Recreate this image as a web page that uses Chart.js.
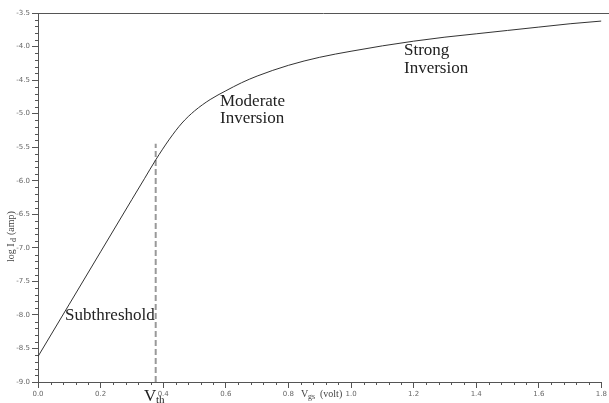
<!DOCTYPE html>
<html>
<head>
<meta charset="utf-8">
<script src="https://cdn.jsdelivr.net/npm/chart.js@4.4.0/dist/chart.umd.min.js"></script>
<style>
  html, body { margin: 0; padding: 0; background: #fff; }
  #wrap { width: 609px; height: 403px; }
</style>
</head>
<body>
<div id="wrap"><canvas id="idChart" width="609" height="403"></canvas></div>
<script>
// gate voltage (V) and log10 of drain current
const vgs = [0, 0.1, 0.2, 0.3, 0.34, 0.376, 0.42, 0.46, 0.5, 0.55, 0.6, 0.65, 0.7, 0.8, 0.9, 1.0, 1.1, 1.2, 1.3, 1.4, 1.5, 1.6, 1.7, 1.8];
const logId = [-8.62, -7.84, -7.06, -6.28, -5.97, -5.69, -5.38, -5.14, -4.96, -4.79, -4.66, -4.54, -4.44, -4.28, -4.16, -4.07, -3.99, -3.92, -3.86, -3.81, -3.76, -3.71, -3.66, -3.62];

// threshold marker
const vth = [0.376, 0.376];
const vthY = [-9.0, -5.45];

// axis ticks
const xTicks = [0.0, 0.2, 0.4, 0.6, 0.8, 1.0, 1.2, 1.4, 1.6, 1.8];
const yTicks = [-3.5, -4.0, -4.5, -5.0, -5.5, -6.0, -6.5, -7.0, -7.5, -8.0, -8.5, -9.0];

const curvePts = vgs.map((v, i) => ({ x: v, y: logId[i] }));
const vthPts = vth.map((v, i) => ({ x: v, y: vthY[i] }));

// minor ticks, top border, labels with subscripts
const extras = {
    id: 'extras',
    afterDraw(chart) {
        const ctx = chart.ctx;
        const xs = chart.scales.x, ys = chart.scales.y;
        const a = chart.chartArea;
        ctx.save();
        ctx.strokeStyle = '#555';
        ctx.lineWidth = 1;
        ctx.beginPath();
        // top border
        ctx.moveTo(a.left, a.top + 0.5);
        ctx.lineTo(chart.width, a.top + 0.5);
        // minor ticks on y (every 0.1)
        for (let k = 0; k <= 55; k++) {
            if (k % 5 === 0) continue;
            const py = Math.round(ys.getPixelForValue(-3.5 - k * 0.1)) + 0.5;
            ctx.moveTo(a.left - 3, py);
            ctx.lineTo(a.left, py);
        }
        // minor ticks on x (every 0.04)
        for (let k = 0; k <= 45; k++) {
            if (k % 5 === 0) continue;
            const px = Math.round(xs.getPixelForValue(k * 0.04)) + 0.5;
            ctx.moveTo(px, a.bottom);
            ctx.lineTo(px, a.bottom + 3);
        }
        ctx.stroke();

        ctx.fillStyle = '#222';
        ctx.textBaseline = 'alphabetic';
        ctx.textAlign = 'left';
        ctx.font = '17px "Liberation Serif", serif';
        ctx.fillText('Subthreshold', 65, 320);
        ctx.fillText('Moderate', 220, 106);
        ctx.fillText('Inversion', 220, 123);
        ctx.fillText('Strong', 404, 55);
        ctx.fillText('Inversion', 404, 73);

        // Vth
        ctx.font = '17px "Liberation Serif", serif';
        ctx.fillText('V', 144, 401);
        ctx.font = '11px "Liberation Serif", serif';
        ctx.fillText('th', 156, 403);

        // x axis title
        ctx.fillStyle = '#444';
        ctx.font = '10px "Liberation Serif", serif';
        ctx.fillText('V', 301, 397);
        ctx.font = '8px "Liberation Serif", serif';
        ctx.fillText('gs', 308, 399);
        ctx.font = '10px "Liberation Serif", serif';
        ctx.fillText('(volt)', 320, 397);

        // y axis title, rotated
        ctx.translate(14, 262);
        ctx.rotate(-Math.PI / 2);
        ctx.font = '10px "Liberation Serif", serif';
        ctx.fillText('log I', 0, 0);
        ctx.font = '8px "Liberation Serif", serif';
        ctx.fillText('d', 20, 2);
        ctx.font = '10px "Liberation Serif", serif';
        ctx.fillText('(amp)', 27, 0);
        ctx.restore();
    }
};

const chart = new Chart(document.getElementById('idChart').getContext('2d'), {
    type: 'scatter',
    data: {
        datasets: [{
            data: curvePts,
            showLine: true,
            borderColor: '#333',
            borderWidth: 1,
            pointRadius: 0,
            cubicInterpolationMode: 'monotone'
        }, {
            data: vthPts,
            showLine: true,
            borderColor: '#999',
            borderWidth: 2,
            borderDash: [6, 3],
            pointRadius: 0
        }]
    },
    options: {
        responsive: false,
        animation: false,
        layout: { padding: { top: 13, right: 3, left: 0, bottom: 0 } },
        plugins: { legend: { display: false }, tooltip: { enabled: false } },
        scales: {
            x: {
                type: 'linear',
                min: 0, max: 1.8,
                afterFit(s) { s.height = 21; },
                afterBuildTicks(s) { s.ticks = xTicks.map(v => ({ value: v })); },
                ticks: {
                    font: { size: 7, family: 'DejaVu Sans' },
                    color: '#666',
                    padding: 2,
                    maxRotation: 0,
                    autoSkip: false,
                    callback: v => v.toFixed(1)
                },
                grid: { drawOnChartArea: false, tickLength: 6, color: '#555' },
                border: { color: '#555', width: 1 }
            },
            y: {
                type: 'linear',
                min: -9.0, max: -3.5,
                afterFit(s) { s.width = 38; },
                afterBuildTicks(s) { s.ticks = yTicks.map(v => ({ value: v })); },
                ticks: {
                    font: { size: 7, family: 'DejaVu Sans' },
                    color: '#666',
                    padding: 2,
                    autoSkip: false,
                    callback: v => v.toFixed(1)
                },
                grid: { drawOnChartArea: false, tickLength: 6, color: '#555' },
                border: { color: '#555', width: 1 }
            }
        }
    },
    plugins: [extras]
});
</script>
</body>
</html>
